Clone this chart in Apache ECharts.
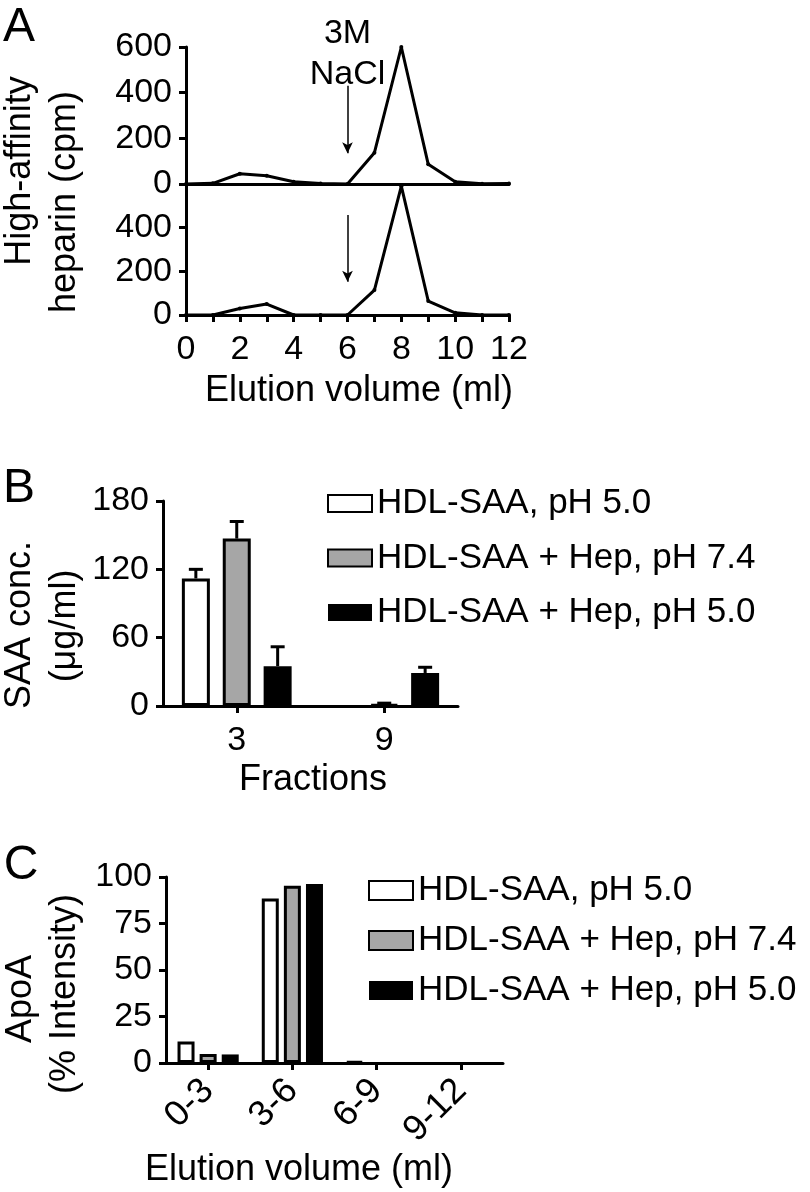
<!DOCTYPE html>
<html><head><meta charset="utf-8">
<script src="https://cdn.jsdelivr.net/npm/echarts@6/dist/echarts.min.js"></script>
<style>html,body{margin:0;padding:0;background:#fff}#c{width:810px;height:1192px}</style>
</head><body><div id="c"></div>
<script>
// ---- Panel A data ----
const volumes = [0,1,2,3,4,5,6,7,8,9,10,11,12];
const cpmTop = [0,3,45,36,10,2,0,137,600,86,10,1,2];
const cpmBottom = [0,0,30,50,0,0,0,114,590,64,10,0,0];
const arrowTop = [430,135];
const arrowBottom = [458,152];
const naclX = 6;
// ---- Panel B data ----
const fractions = ['3','9'];
const seriesNames = ['HDL-SAA, pH 5.0','HDL-SAA + Hep, pH 7.4','HDL-SAA + Hep, pH 5.0'];
const saaWhite = [112,0];
const saaWhiteErr = [8,0];
const saaGray = [147,1.5];
const saaGrayErr = [15,1];
const saaBlack = [35,29];
const saaBlackErr = [17,5];
// ---- Panel C data ----
const elutionRanges = ['0-3','3-6','6-9','9-12'];
const apoWhite = [11.5,88.5,0.8,0];
const apoGray = [4.8,95.3,0,0];
const apoBlack = [4.6,96.2,0,0];

const FONT = '"Liberation Sans", Arial, Helvetica, sans-serif';
const chart = echarts.init(document.getElementById('c'), null, {renderer:'canvas'});

const axisLine = {show:true, lineStyle:{color:'#000', width:3}};
const axisTick = {show:true, length:7, inside:false, lineStyle:{color:'#000', width:3}};
const tickLabel = {color:'#000', fontSize:34, fontFamily:FONT};
const WHITE = {color:'#fff', borderColor:'#000', borderWidth:3};
const GRAY = {color:'#a6a6a6', borderColor:'#000', borderWidth:3};
const BLACK = {color:'#000', borderColor:'#000', borderWidth:0};
const barData = arr => arr.map(v => v === 0 ? '-' : v);

function errRender(offset){
  return function(params, api){
    const err = api.value(2);
    if(!err) return null;
    const base = api.coord([api.value(0), api.value(1)]);
    const top = api.coord([api.value(0), api.value(1)+err]);
    const x = base[0]+offset;
    return {type:'group', children:[
      {type:'line', shape:{x1:x,y1:base[1],x2:x,y2:top[1]}, style:{stroke:'#000', lineWidth:3}},
      {type:'line', shape:{x1:x-7,y1:top[1],x2:x+7,y2:top[1]}, style:{stroke:'#000', lineWidth:3}}
    ]};
  };
}

const arrowMark = (pair) => ({
  silent:true, symbol:['none','arrow'], symbolSize:[8,11], animation:false,
  lineStyle:{color:'#000', width:1.5, type:'solid'}, label:{show:false}, emphasis:{disabled:true},
  data:[[{coord:[naclX,pair[0]]},{coord:[naclX,pair[1]]}]]
});

const option = {
  animation:false,
  textStyle:{fontFamily:FONT, color:'#000'},
  grid:[
    {left:186, top:47, width:323, height:137, outerBoundsMode:'none'},
    {left:186, top:184, width:323, height:131, outerBoundsMode:'none'},
    {left:163, top:501, width:295, height:205, outerBoundsMode:'none'},
    {left:166, top:877, width:337, height:186, outerBoundsMode:'none'}
  ],
  xAxis:[
    {type:'value', gridIndex:0, min:0, max:12, interval:1, axisLine, axisTick:{show:false}, axisLabel:{show:false}, splitLine:{show:false}},
    {type:'value', gridIndex:1, min:0, max:12, interval:1, axisLine, axisTick:{show:true,length:7,lineStyle:{color:'#000',width:3}}, splitLine:{show:false},
      axisLabel:Object.assign({}, tickLabel, {margin:18, formatter:v=> v%2===0 ? String(v) : ''})},
    {type:'category', gridIndex:2, data:fractions, boundaryGap:true, axisLine, axisTick:Object.assign({alignWithLabel:true}, axisTick),
      axisLabel:Object.assign({}, tickLabel, {margin:18})},
    {type:'category', gridIndex:3, data:elutionRanges, boundaryGap:true, axisLine, axisTick:Object.assign({alignWithLabel:true}, axisTick),
      axisLabel:Object.assign({}, tickLabel, {margin:22, rotate:45, fontSize:36})}
  ],
  yAxis:[
    {type:'value', gridIndex:0, min:0, max:600, interval:200, axisLine, axisTick, splitLine:{show:false},
      axisLabel:Object.assign({}, tickLabel, {margin:14})},
    {type:'value', gridIndex:1, min:0, max:600, interval:200, axisLine, axisTick, splitLine:{show:false},
      axisLabel:Object.assign({}, tickLabel, {margin:14, formatter:v=> v===600 ? '' : String(v)})},
    {type:'value', gridIndex:2, min:0, max:180, interval:60, axisLine, axisTick, splitLine:{show:false},
      axisLabel:Object.assign({}, tickLabel, {margin:14})},
    {type:'value', gridIndex:3, min:0, max:100, interval:25, axisLine, axisTick, splitLine:{show:false},
      axisLabel:Object.assign({}, tickLabel, {margin:14})}
  ],
  legend:[
    {left:327, top:486, orient:'vertical', selectedMode:false, icon:'rect', itemWidth:44, itemHeight:17, itemGap:19.5, padding:0,
      textStyle:{fontSize:35, color:'#000', fontFamily:FONT, lineHeight:34}, data:seriesNames},
    {left:368, top:873, orient:'vertical', selectedMode:false, icon:'rect', itemWidth:44, itemHeight:19, itemGap:15, padding:0,
      textStyle:{fontSize:35, color:'#000', fontFamily:FONT, lineHeight:34}, data:seriesNames}
  ],
  series:[
    {type:'line', xAxisIndex:0, yAxisIndex:0, data:volumes.map((v,i)=>[v,cpmTop[i]]), symbol:'circle', symbolSize:4, showAllSymbol:true,
      itemStyle:{color:'#000'}, lineStyle:{color:'#000', width:3}, clip:false, markLine:arrowMark(arrowTop), z:3},
    {type:'line', xAxisIndex:1, yAxisIndex:1, data:volumes.map((v,i)=>[v,cpmBottom[i]]), symbol:'circle', symbolSize:4, showAllSymbol:true,
      itemStyle:{color:'#000'}, lineStyle:{color:'#000', width:3}, clip:false, markLine:arrowMark(arrowBottom), z:3},
    {name:seriesNames[0], type:'bar', xAxisIndex:2, yAxisIndex:2, data:barData(saaWhite), barWidth:28, barGap:'46%', itemStyle:WHITE},
    {name:seriesNames[1], type:'bar', xAxisIndex:2, yAxisIndex:2, data:barData(saaGray), barWidth:28, barGap:'46%', itemStyle:GRAY},
    {name:seriesNames[2], type:'bar', xAxisIndex:2, yAxisIndex:2, data:barData(saaBlack), barWidth:28, barGap:'46%', itemStyle:BLACK},
    {type:'custom', xAxisIndex:2, yAxisIndex:2, renderItem:errRender(-40.9), data:fractions.map((f,i)=>[i,saaWhite[i],saaWhiteErr[i]]), z:5},
    {type:'custom', xAxisIndex:2, yAxisIndex:2, renderItem:errRender(0), data:fractions.map((f,i)=>[i,saaGray[i],saaGrayErr[i]]), z:5},
    {type:'custom', xAxisIndex:2, yAxisIndex:2, renderItem:errRender(40.9), data:fractions.map((f,i)=>[i,saaBlack[i],saaBlackErr[i]]), z:5},
    {name:seriesNames[0], type:'bar', xAxisIndex:3, yAxisIndex:3, data:barData(apoWhite), barWidth:17, barGap:'30%', itemStyle:WHITE},
    {name:seriesNames[1], type:'bar', xAxisIndex:3, yAxisIndex:3, data:barData(apoGray), barWidth:17, barGap:'30%', itemStyle:GRAY},
    {name:seriesNames[2], type:'bar', xAxisIndex:3, yAxisIndex:3, data:barData(apoBlack), barWidth:17, barGap:'30%', itemStyle:BLACK}
  ]
};
chart.setOption(option);

const naclPx = chart.convertToPixel({gridIndex:0}, [naclX, 0])[0];
function txt(text, x, y, size, rot){
  return {type:'text', x, y, rotation: rot||0, style:{text, fontSize:size, fontFamily:FONT, fill:'#000', align:'center', verticalAlign:'middle'}};
}
const R = Math.PI/2;
chart.setOption({graphic:[
  txt('A', 19, 28, 48), txt('B', 19, 489, 48), txt('C', 21, 866, 48),
  txt('3M', naclPx, 34, 34), txt('NaCl', naclPx, 75, 34),
  txt('High-affinity', 20, 171, 36, R), txt('heparin (cpm)', 65, 202, 36, R),
  txt('Elution volume (ml)', 359, 391, 36),
  txt('SAA conc.', 20, 625, 36, R), txt('(μg/ml)', 65, 626, 36, R),
  txt('Fractions', 313, 780, 36),
  txt('ApoA', 21, 999, 36, R), txt('(% Intensity)', 65, 994, 36, R),
  txt('Elution volume (ml)', 299, 1170, 36)
]});
</script></body></html>
